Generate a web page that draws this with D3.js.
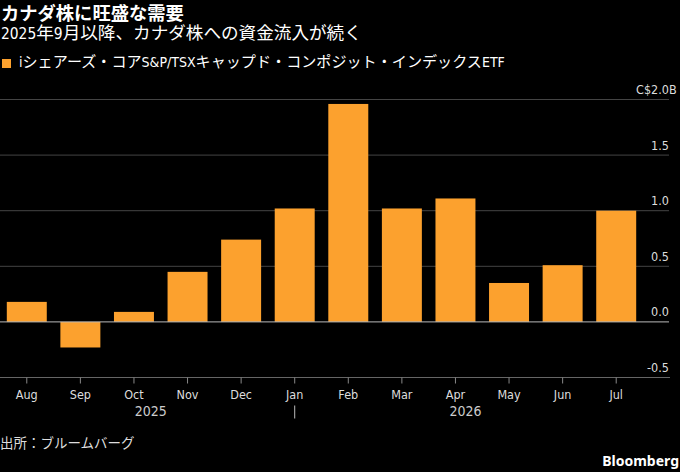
<!DOCTYPE html>
<html><head><meta charset="utf-8">
<script src="https://cdn.jsdelivr.net/npm/d3@7/dist/d3.min.js"></script>
<style>
html,body{margin:0;padding:0;background:#000;}
svg{display:block;}
</style></head>
<body>
<script>
const months = ["Aug","Sep","Oct","Nov","Dec","Jan","Feb","Mar","Apr","May","Jun","Jul"];
const flows = [0.18,-0.23,0.09,0.45,0.74,1.02,1.96,1.02,1.11,0.35,0.51,1.00];
const yTicks = [-0.5,0,0.5,1.0,1.5,2.0];
const yTickLabels = ["-0.5","0.0","0.5","1.0","1.5","2.0"];
const yTopPrefix = "C$", yTopSuffix = "B";
const years = [{label:"2025"},{label:"2026"}];
const title = "カナダ株に旺盛な需要";
const subtitle = "2025年9月以降、カナダ株への資金流入が続く";
const legendLabel = "iシェアーズ・コアS&P/TSXキャップド・コンポジット・インデックスETF";
const source = "出所：ブルームバーグ";

const W=680,H=472;
const jp = "'Noto Sans CJK JP','Noto Sans',sans-serif";
const cond = "'DejaVu Sans Condensed','DejaVu Sans',sans-serif";
const narrow = "'Liberation Sans Narrow','DejaVu Sans Condensed',sans-serif";
const orange = "#fca12e";

const svg = d3.select("body").append("svg").attr("width",W).attr("height",H);
svg.append("rect").attr("width",W).attr("height",H).attr("fill","#000");

// mixed-script text: CJK runs in Noto CJK, Latin runs in a narrow sans
function rich(x0, y0, str, cjkSize, latSize, fill, weight){
  const t = svg.append("text").attr("x",x0).attr("y",y0).attr("fill",fill)
    .attr("font-weight",weight||"normal");
  const runs = str.split(/([\x20-\x7E]+)/).filter(s=>s.length);
  runs.forEach(r=>{
    const lat = /^[\x20-\x7E]+$/.test(r);
    t.append("tspan").attr("font-family",lat?narrow:jp)
      .attr("font-size",lat?latSize:cjkSize).text(r);
  });
  return t;
}

rich(1, 19.5, title, 18.3, 18, "#fff", "bold");
rich(1, 39, subtitle, 17.6, 15.4, "#fff");
svg.append("rect").attr("x",2).attr("y",59).attr("width",9).attr("height",9).attr("fill",orange);
rich(19, 67, legendLabel, 15.1, 14, "#fff");

const x = d3.scaleBand().domain(months).range([0,643]).paddingInner(0.254).paddingOuter(0.127);
const y = d3.scaleLinear().domain([-0.5,2.0]).range([377.5,99.5]);
const gridRight = 669;

// grid
svg.append("g").selectAll("line").data(yTicks.filter(d=>d>0)).join("line")
  .attr("x1",0).attr("x2",gridRight).attr("y1",d=>y(d)).attr("y2",d=>y(d))
  .attr("stroke","#444").attr("stroke-width",1);

// y labels (numbers right aligned, unit hangs around top label)
const yl = svg.append("g");
yl.selectAll("text").data(yTicks).join("text")
  .attr("x",gridRight).attr("y",d=>y(d)-5.5).attr("text-anchor","end")
  .attr("fill","#ddd").attr("font-family",cond).attr("font-size",12.5)
  .text((d,i)=>yTickLabels[i])
  .each(function(d,i){
    if(i===yTicks.length-1){
      const w = this.getComputedTextLength();
      yl.append("text").attr("x",gridRight-w).attr("y",y(d)-5.5).attr("text-anchor","end")
        .attr("fill","#ddd").attr("font-family",cond).attr("font-size",12.5).text(yTopPrefix);
      yl.append("text").attr("x",gridRight).attr("y",y(d)-5.5).attr("text-anchor","start")
        .attr("fill","#ddd").attr("font-family",cond).attr("font-size",12.5).text(yTopSuffix);
    }
  });

// bars
svg.append("g").selectAll("rect").data(flows).join("rect")
  .attr("x",(d,i)=>x(months[i])).attr("width",x.bandwidth())
  .attr("y",d=>y(Math.max(0,d))).attr("height",d=>Math.abs(y(d)-y(0)))
  .attr("fill",orange);

// zero line
svg.append("line").attr("x1",0).attr("x2",gridRight).attr("y1",y(0)).attr("y2",y(0))
  .attr("stroke","#bbb").attr("stroke-width",1);

// x axis
const xg = svg.append("g").attr("transform",`translate(0,${y(-0.5)})`);
xg.append("line").attr("x1",0).attr("x2",670).attr("y1",0).attr("y2",0).attr("stroke","#666");
const cx = m => x(m)+x.bandwidth()/2;
xg.selectAll("line.t").data(months).join("line").attr("class","t")
  .attr("x1",cx).attr("x2",cx).attr("y1",0).attr("y2",6).attr("stroke","#888");
xg.selectAll("text.m").data(months).join("text").attr("class","m")
  .attr("x",cx).attr("y",21.5).attr("text-anchor","middle")
  .attr("fill","#ddd").attr("font-family",cond).attr("font-size",12.5).text(d=>d);

const yr = [ (x("Aug")+cx("Jan"))/2, (cx("Jan")+x("Jul")+x.bandwidth())/2 ];
xg.selectAll("text.y").data(years).join("text").attr("class","y")
  .attr("x",(d,i)=>yr[i]).attr("y",38).attr("text-anchor","middle")
  .attr("fill","#ccc").attr("font-family",cond).attr("font-size",14).text(d=>d.label);
xg.append("line").attr("x1",cx("Jan")).attr("x2",cx("Jan")).attr("y1",28).attr("y2",41)
  .attr("stroke","#bbb").attr("stroke-width",1);

rich(0, 448, source, 13.5, 12.5, "#ddd");
svg.append("text").attr("x",679).attr("y",466).attr("text-anchor","end").attr("fill","#fff")
  .attr("font-family","'Noto Sans','Open Sans',sans-serif").attr("font-size",14).attr("font-weight","bold").text("Bloomberg");
</script>
</body></html>
